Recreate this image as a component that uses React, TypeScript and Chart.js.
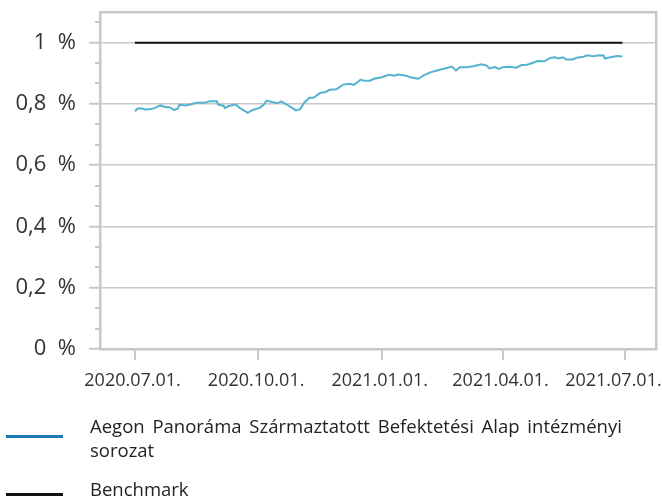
import React, { useEffect, useRef } from 'react';
import { Chart, registerables } from 'chart.js';

Chart.register(...registerables);

// Days counted from 2020-07-01
const xTickDays = [0, 92, 184, 274, 365];
const xTickLabels = ['2020.07.01.', '2020.10.01.', '2021.01.01.', '2021.04.01.', '2021.07.01.'];

const yTickValues = [0, 0.2, 0.4, 0.6, 0.8, 1];
const yTickLabels = ['0  %', '0,2  %', '0,4  %', '0,6  %', '0,8  %', '1  %'];
const yMinorTickValues = [
  0.0667, 0.1333, 0.2667, 0.3333, 0.4667, 0.5333, 0.6667, 0.7333, 0.8667, 0.9333, 1.0667,
];

const seriesNames = [
  'Aegon Panoráma Származtatott Befektetési Alap intézményi sorozat',
  'Benchmark',
];

const fundDays = [
  0, 2, 4, 8, 12, 15, 19, 23, 26, 29,
  32, 33, 38, 41, 46, 52, 56, 61, 62, 66,
  67, 70, 75, 78, 84, 88, 93, 96, 98, 102,
  106, 109, 113, 117, 120, 123, 126, 130, 133, 138,
  142, 145, 150, 155, 160, 163, 168, 171, 175, 178,
  184, 189, 193, 196, 201, 205, 211, 215, 220, 225,
  230, 236, 239, 242, 247, 252, 258, 262, 264, 268,
  271, 274, 279, 284, 288, 292, 297, 300, 305, 309,
  313, 315, 319, 321, 326, 329, 334, 337, 341, 346,
  349, 350, 354, 359, 363,
];
const fundValues = [
  0.776, 0.785, 0.786, 0.782, 0.783, 0.787, 0.795, 0.789, 0.789, 0.780,
  0.785, 0.797, 0.795, 0.798, 0.804, 0.804, 0.809, 0.809, 0.798, 0.794,
  0.787, 0.793, 0.798, 0.787, 0.771, 0.781, 0.787, 0.798, 0.811, 0.806,
  0.802, 0.808, 0.798, 0.787, 0.779, 0.783, 0.804, 0.820, 0.820, 0.836,
  0.839, 0.846, 0.848, 0.863, 0.866, 0.862, 0.879, 0.876, 0.876, 0.882,
  0.887, 0.895, 0.892, 0.896, 0.893, 0.887, 0.882, 0.893, 0.903, 0.909,
  0.915, 0.922, 0.909, 0.920, 0.920, 0.923, 0.929, 0.925, 0.916, 0.920,
  0.914, 0.920, 0.921, 0.918, 0.927, 0.928, 0.935, 0.940, 0.939, 0.950,
  0.952, 0.948, 0.952, 0.945, 0.945, 0.951, 0.954, 0.959, 0.956, 0.959,
  0.958, 0.948, 0.952, 0.956, 0.955,
];

const benchmarkDays = [0, 363];
const benchmarkValues = [1, 1];

const X_MIN = -26;
const X_MAX = 388;
const Y_MIN = 0;
const Y_MAX = 1.1;

const GRID = '#c8c8c8';
const TEXT = '#333333';
const FUND_LINE = '#55b2cf';
const FUND_LEGEND = '#1a76bb';
const BENCH = '#111111';
const FONT = "'Open Sans', 'Noto Sans', sans-serif";

export default function App() {
  const canvasRef = useRef<HTMLCanvasElement | null>(null);

  useEffect(() => {
    document.body.style.margin = '0';
    const canvas = canvasRef.current;
    if (!canvas) return;

    const chart = new Chart(canvas, {
      type: 'line',
      data: {
        datasets: [
          {
            label: seriesNames[0],
            data: fundDays.map((d, i) => ({ x: d, y: fundValues[i] })),
            borderColor: FUND_LINE,
            borderWidth: 2,
            pointRadius: 0,
            tension: 0,
            fill: false,
          },
          {
            label: seriesNames[1],
            data: benchmarkDays.map((d, i) => ({ x: d, y: benchmarkValues[i] })),
            borderColor: BENCH,
            borderWidth: 2,
            pointRadius: 0,
            tension: 0,
            fill: false,
          },
        ],
      },
      options: {
        animation: false,
        responsive: false,
        maintainAspectRatio: false,
        events: [],
        layout: { padding: { left: 0, top: 12, right: 6, bottom: 111 } },
        plugins: {
          legend: { display: false },
          tooltip: { enabled: false },
          title: { display: false },
        },
        scales: {
          x: {
            type: 'linear',
            position: 'bottom',
            min: X_MIN,
            max: X_MAX,
            afterBuildTicks: (s: any) => {
              s.ticks = xTickDays.map((v) => ({ value: v }));
            },
            afterFit: (s: any) => {
              s.height = 40;
              s.paddingLeft = 0;
              s.paddingRight = 0;
            },
            ticks: {
              autoSkip: false,
              maxRotation: 0,
              minRotation: 0,
              padding: 10,
              color: TEXT,
              font: { family: FONT, size: 18 },
              callback: (v: any) => {
                const i = xTickDays.indexOf(Number(v));
                if (i < 0) return '';
                // last label is kept inside the canvas, as in the original
                return i === xTickDays.length - 1 ? xTickLabels[i] + '     ' : xTickLabels[i] + ' ';
              },
            },
            grid: {
              drawOnChartArea: false,
              color: GRID,
              lineWidth: 2,
              tickLength: 11,
            },
            border: { color: GRID, width: 2.5 },
          },
          x2: {
            type: 'linear',
            position: 'top',
            min: X_MIN,
            max: X_MAX,
            grid: { display: false, drawTicks: false },
            ticks: { display: false },
            afterFit: (s: any) => {
              s.height = 0;
              s.paddingLeft = 0;
              s.paddingRight = 0;
            },
            border: { color: GRID, width: 2.5 },
          },
          y: {
            type: 'linear',
            position: 'left',
            min: Y_MIN,
            max: Y_MAX,
            afterBuildTicks: (s: any) => {
              s.ticks = yTickValues.map((v) => ({ value: v }));
            },
            afterFit: (s: any) => {
              s.width = 100;
              s.paddingTop = 0;
              s.paddingBottom = 0;
            },
            ticks: {
              padding: 13,
              color: TEXT,
              font: { family: FONT, size: 22, lineHeight: 1 },
              callback: (v: any) => {
                const i = yTickValues.findIndex((t) => Math.abs(t - Number(v)) < 1e-6);
                return i >= 0 ? yTickLabels[i] : '';
              },
            },
            grid: {
              color: GRID,
              lineWidth: 1.5,
              tickLength: 11,
              tickWidth: 2,
            },
            border: { color: GRID, width: 2.5 },
          },
          yMinor: {
            type: 'linear',
            axis: 'y',
            position: { x: X_MIN },
            min: Y_MIN,
            max: Y_MAX,
            afterBuildTicks: (s: any) => {
              s.ticks = yMinorTickValues.map((v) => ({ value: v }));
            },
            afterFit: (s: any) => {
              s.width = 0;
              s.paddingTop = 0;
              s.paddingBottom = 0;
            },
            ticks: { display: false },
            grid: {
              drawOnChartArea: false,
              color: GRID,
              lineWidth: 2,
              tickLength: 5,
            },
            border: { display: false },
          },
          y2: {
            type: 'linear',
            position: 'right',
            min: Y_MIN,
            max: Y_MAX,
            grid: { display: false, drawTicks: false },
            ticks: { display: false },
            afterFit: (s: any) => {
              s.width = 0;
              s.paddingTop = 0;
              s.paddingBottom = 0;
            },
            border: { color: GRID, width: 2.5 },
          },
        },
      } as any,
    });

    return () => chart.destroy();
  }, []);

  const legendText: React.CSSProperties = {
    position: 'absolute',
    left: 90,
    width: 565,
    fontFamily: FONT,
    fontSize: 18.5,
    wordSpacing: 3,
    lineHeight: '24px',
    color: '#222',
  };

  return (
    <div style={{ position: 'relative', width: 662, height: 500, overflow: 'hidden', background: '#fff' }}>
      <canvas ref={canvasRef} width={662} height={500} style={{ display: 'block', width: 662, height: 500 }} />
      <div style={{ position: 'absolute', left: 6, top: 435, width: 57, height: 3, background: FUND_LEGEND }} />
      <div style={{ ...legendText, top: 414 }}>{seriesNames[0]}</div>
      <div style={{ position: 'absolute', left: 6, top: 493, width: 57, height: 3, background: BENCH }} />
      <div style={{ ...legendText, top: 477 }}>{seriesNames[1]}</div>
    </div>
  );
}
